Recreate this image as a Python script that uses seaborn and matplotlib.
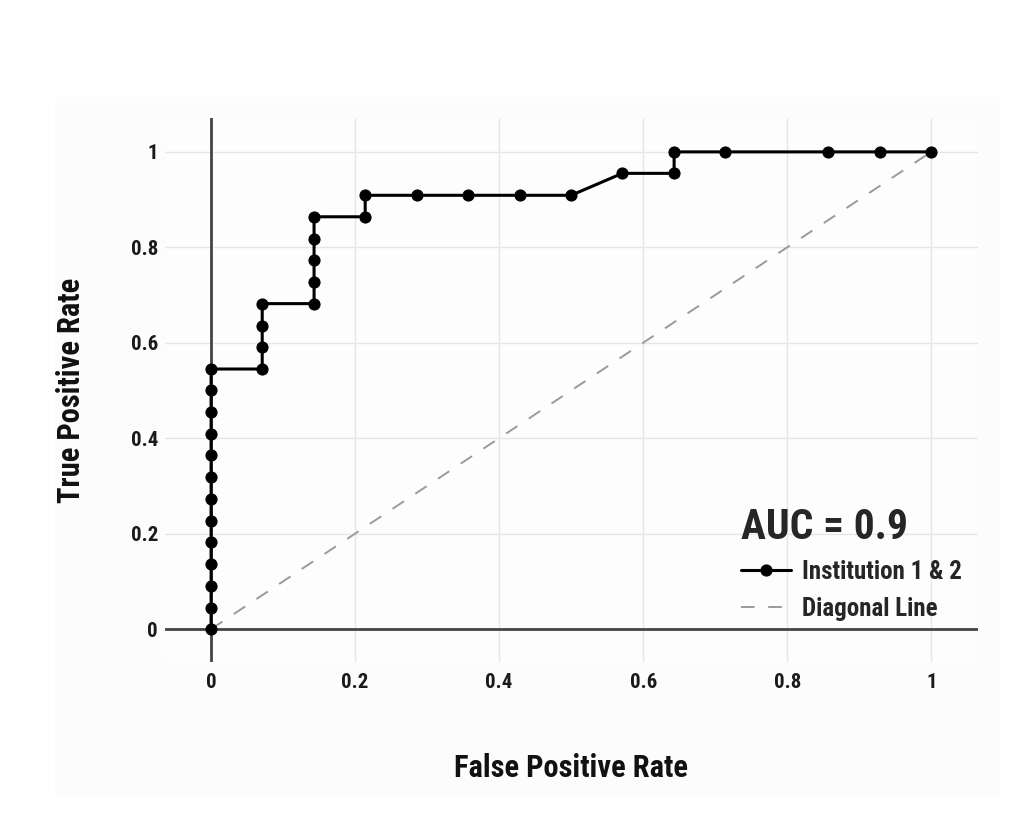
import matplotlib
matplotlib.use("Agg")
import matplotlib.pyplot as plt
import matplotlib.patches as mpatches
from matplotlib import font_manager
import seaborn as sb
import pandas as pd

# ROC points
fpr = [0.0, 0.0, 0.0, 0.0, 0.0, 0.0, 0.0, 0.0, 0.0, 0.0, 0.0, 0.0, 0.0,
       0.071, 0.071, 0.071, 0.071,
       0.143, 0.143, 0.143, 0.143, 0.143,
       0.214, 0.214,
       0.286, 0.357, 0.429, 0.5,
       0.571, 0.643, 0.643, 0.714, 0.857, 0.929, 1.0]
tpr = [0.0, 0.045, 0.091, 0.136, 0.182, 0.227, 0.273, 0.318, 0.364, 0.409, 0.455, 0.5, 0.545,
       0.545, 0.591, 0.636, 0.682,
       0.682, 0.727, 0.773, 0.818, 0.864,
       0.864, 0.909,
       0.909, 0.909, 0.909, 0.909,
       0.955, 0.955, 1.0, 1.0, 1.0, 1.0, 1.0]
diag_x = [0, 1]
diag_y = [0, 1]
ticks = [0, 0.2, 0.4, 0.6, 0.8, 1]
tick_labels = ["0", "0.2", "0.4", "0.6", "0.8", "1"]
auc_text = "AUC = 0.9"

roc = pd.DataFrame({"fpr": fpr, "tpr": tpr})
diag = pd.DataFrame({"x": diag_x, "y": diag_y})

sb.set_style("white")

# pick a narrow font if one is around
installed = {(f.name, f.stretch) for f in font_manager.fontManager.ttflist}
names = {n for n, s in installed}
stretch = 'normal'
if 'Roboto Condensed' in names:
    fam = 'Roboto Condensed'
elif 'Liberation Sans Narrow' in names:
    fam = 'Liberation Sans Narrow'
elif any(n == 'DejaVu Sans' and s in ('condensed', 'semi-condensed') for n, s in installed):
    fam = 'DejaVu Sans'
    stretch = 'condensed'
else:
    fam = 'Roboto'
plt.rcParams['font.family'] = [fam, 'DejaVu Sans']
plt.rcParams['font.stretch'] = stretch
plt.rcParams['font.weight'] = 'bold'
plt.rcParams['axes.labelweight'] = 'bold'

fig = plt.figure(figsize=(10.11, 8.33), dpi=100)
fig.patches.append(mpatches.Rectangle((55/1011, 1-797/833), 945/1011, 700/833,
                                      transform=fig.transFigure, facecolor='#fcfcfc',
                                      edgecolor='none', zorder=-5))
ax = fig.add_axes([165/1011, 1-662/833, 813/1011, 544/833])
ax.set_facecolor('#fdfdfd')

ax.grid(True, color='#e6e6e6', linewidth=1)
ax.set_axisbelow(True)
ax.axhline(0, color='#444444', linewidth=2, zorder=1)
ax.axvline(0, color='#444444', linewidth=2, zorder=1)

sb.lineplot(data=diag, x="x", y="y", ax=ax, color='#9a9a9a', linewidth=1.4,
            label="Diagonal Line", zorder=2)
ax.lines[-1].set_dashes([7, 7])
sb.lineplot(data=roc, x="fpr", y="tpr", ax=ax, sort=False, estimator=None,
            color='black', linewidth=2.2, marker='o', markersize=8,
            markeredgecolor='black', label="Institution 1 & 2", zorder=3)

ax.set_xlim(-0.064, 1.065)
ax.set_ylim(-0.069, 1.071)
ax.set_xticks(ticks)
ax.set_xticklabels(tick_labels)
ax.set_yticks(ticks)
ax.set_yticklabels(tick_labels)
ax.tick_params(length=0, labelsize=15, colors='#1a1a1a')
ax.tick_params(axis='x', pad=8)
ax.tick_params(axis='y', pad=5)
for s in ax.spines.values():
    s.set_visible(False)

ax.set_xlabel("False Positive Rate", fontsize=22, color='#111111', labelpad=44)
ax.set_ylabel("True Positive Rate", fontsize=22, color='#111111', labelpad=32)

h, l = ax.get_legend_handles_labels()
leg = ax.legend(h[::-1], l[::-1], title=auc_text, loc='lower left',
                bbox_to_anchor=(0.708, 0.076), frameon=False,
                prop={'size': 18, 'weight': 'bold'},
                title_fontproperties={'size': 30, 'weight': 'bold'},
                alignment='left', handlelength=2.0,
                borderpad=0, borderaxespad=0, labelspacing=0.5, handletextpad=0.45)

plt.savefig("out.png", dpi=100)
